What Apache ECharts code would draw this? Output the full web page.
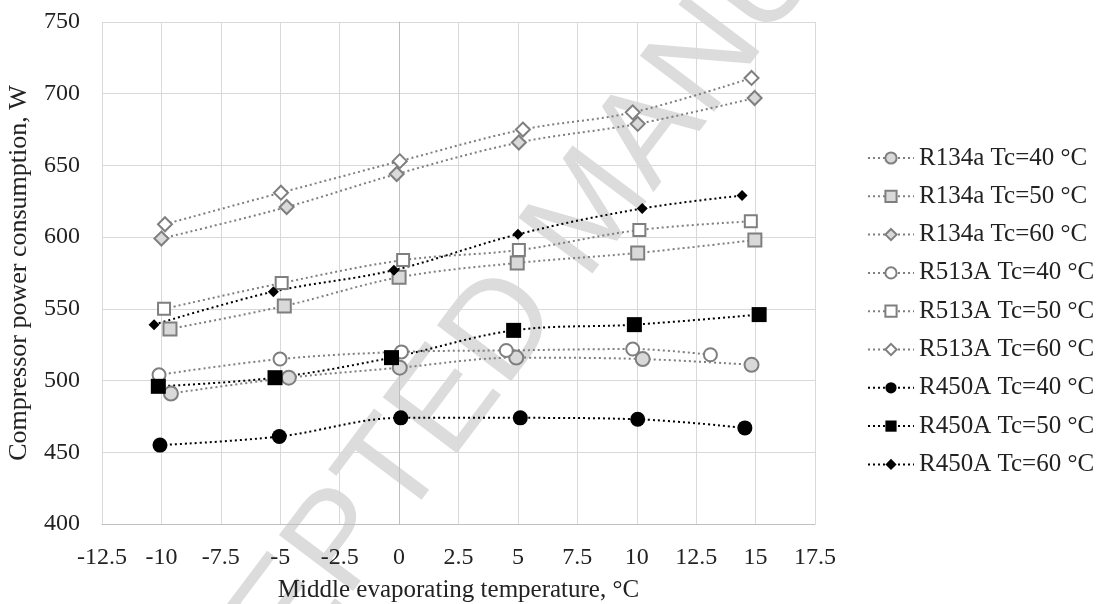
<!DOCTYPE html>
<html style="height: 100%">
<head>
<meta charset="utf-8">
<title>Compressor power consumption</title>
<script src="https://cdn.jsdelivr.net/npm/echarts@6/dist/echarts.min.js"></script>
</head>
<body style="height: 100%; margin: 0; background: #fff">
<div id="container" style="width: 1106px; height: 604px"></div>
<script>
// series names (legend order)
var names = ['R134a Tc=40 °C', 'R134a Tc=50 °C', 'R134a Tc=60 °C',
             'R513A Tc=40 °C', 'R513A Tc=50 °C', 'R513A Tc=60 °C',
             'R450A Tc=40 °C', 'R450A Tc=50 °C', 'R450A Tc=60 °C'];

// evaporating temperature (x) and power (y) for each series
var r134a40x = [-9.6, -4.64, 0.03, 4.93, 10.25, 14.83];
var r134a40y = [491, 502, 509, 516, 515, 511];
var r134a50x = [-9.64, -4.83, 0, 4.97, 10.04, 14.97];
var r134a50y = [536, 552, 572, 582, 589, 598];
var r134a60x = [-10, -4.73, -0.1, 5.04, 10.04, 14.96];
var r134a60y = [599, 621, 644, 666, 679, 697];

var r513a40x = [-10.1, -5.01, 0.1, 4.51, 9.83, 13.1];
var r513a40y = [504, 515, 520, 521, 522, 518];
var r513a50x = [-9.89, -4.94, 0.17, 5.04, 10.11, 14.8];
var r513a50y = [550, 568, 584, 591, 605, 611];
var r513a60x = [-9.85, -4.97, 0.03, 5.21, 9.83, 14.83];
var r513a60y = [609, 631, 653, 675, 687, 711];

var r450a40x = [-10.06, -5.04, 0.07, 5.1, 10.04, 14.55];
var r450a40y = [455, 461, 474, 474, 473, 467];
var r450a50x = [-10.13, -5.22, -0.32, 4.82, 9.9, 15.15];
var r450a50y = [496, 502, 516, 535, 539, 546];
var r450a60x = [-10.31, -5.29, -0.22, 5.0, 10.23, 14.43];
var r450a60y = [539, 562, 577, 602, 620, 629];

var font = 'Liberation Serif, Times New Roman, serif';

function pairs(xs, ys) {
  return xs.map(function (x, i) { return [x, ys[i]]; });
}

// one series helper: symbol, fill, border, line colour, size
function mk(name, xs, ys, symbol, fill, border, line, size) {
  return {
    name: name,
    type: 'line',
    data: pairs(xs, ys),
    smooth: 0.35,
    symbol: symbol,
    symbolSize: size,
    showAllSymbol: true,
    itemStyle: { color: fill, borderColor: border, borderWidth: fill === '#000000' ? 0 : 2 },
    lineStyle: { color: line, width: 2, type: [2, 3] },
    emphasis: { disabled: true }
  };
}

var grayFill = '#d9d9d9', grayEdge = '#7f7f7f', white = '#ffffff', black = '#000000';

var dom = document.getElementById('container');
var myChart = echarts.init(dom);

var option = {
  animation: false,
  grid: { left: 102, right: 291, top: 22, bottom: 80, outerBoundsMode: 'none' },
  // diagonal watermark of the source page, kept behind everything
  graphic: [{
    type: 'text',
    x: 592,
    y: 212,
    rotation: 53 * Math.PI / 180,
    z: -1,
    silent: true,
    style: {
      text: 'ACCEPTED MANUSCRIPT',
      font: '135px Liberation Sans, Arial, sans-serif',
      fill: '#dcdcdc',
      align: 'center',
      verticalAlign: 'middle'
    }
  }],
  legend: {
    orient: 'vertical',
    left: 867,
    top: 144,
    padding: 0,
    itemGap: 10.3,
    itemWidth: 46,
    itemHeight: 14,
    textStyle: { fontFamily: font, fontSize: 25, color: '#222', lineHeight: 28 },
    data: names
  },
  xAxis: {
    type: 'value',
    min: -12.5,
    max: 17.5,
    interval: 2.5,
    name: 'Middle evaporating temperature, °C',
    nameLocation: 'middle',
    nameGap: 54,
    nameTextStyle: { fontFamily: font, fontSize: 25, color: '#222' },
    axisLine: { lineStyle: { color: '#bfbfbf', width: 1 } },
    axisTick: { show: false },
    axisLabel: { fontFamily: font, fontSize: 24, color: '#222', margin: 22 },
    splitLine: { lineStyle: { color: '#d9d9d9', width: 1 } }
  },
  yAxis: {
    type: 'value',
    min: 400,
    max: 750,
    interval: 50,
    name: 'Compressor power consumption, W',
    nameLocation: 'middle',
    nameGap: 70,
    nameTextStyle: { fontFamily: font, fontSize: 26, color: '#222' },
    axisLine: { show: true, lineStyle: { color: '#bfbfbf', width: 1 } },
    axisTick: { show: false },
    axisLabel: { fontFamily: font, fontSize: 24, color: '#222', margin: 22 },
    splitLine: { lineStyle: { color: '#d9d9d9', width: 1 } }
  },
  series: [
    mk(names[0], r134a40x, r134a40y, 'circle', grayFill, grayEdge, grayEdge, 14),
    mk(names[1], r134a50x, r134a50y, 'rect', grayFill, grayEdge, grayEdge, 13),
    mk(names[2], r134a60x, r134a60y, 'diamond', grayFill, grayEdge, grayEdge, 14),
    mk(names[3], r513a40x, r513a40y, 'circle', white, grayEdge, grayEdge, 13),
    mk(names[4], r513a50x, r513a50y, 'rect', white, grayEdge, grayEdge, 12),
    mk(names[5], r513a60x, r513a60y, 'diamond', white, grayEdge, grayEdge, 14),
    mk(names[6], r450a40x, r450a40y, 'circle', black, black, black, 15),
    mk(names[7], r450a50x, r450a50y, 'rect', black, black, black, 15),
    mk(names[8], r450a60x, r450a60y, 'diamond', black, black, black, 11)
  ]
};

myChart.setOption(option);
</script>
</body>
</html>
